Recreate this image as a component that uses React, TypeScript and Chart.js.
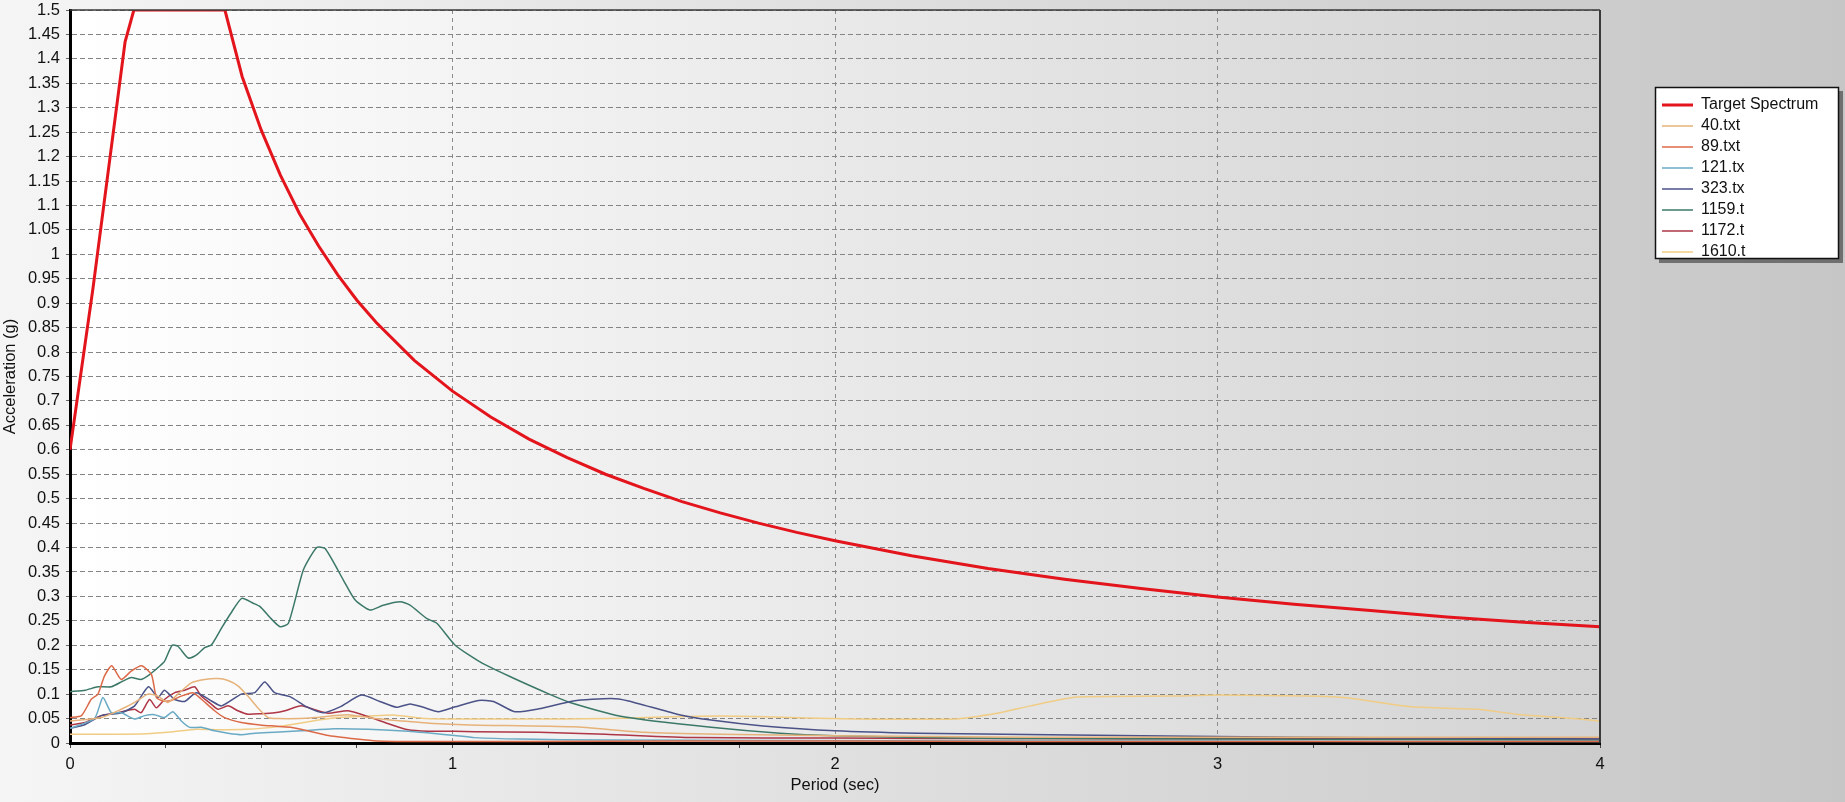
import React, { useEffect, useRef } from "react";
import { Chart, registerables } from "chart.js";

Chart.register(...registerables);

// ---------- data ----------
const seriesNames = ["Target Spectrum", "40.txt", "89.txt", "121.tx", "323.tx", "1159.t", "1172.t", "1610.t"];

const targetPeriod = [0, 0.06, 0.144, 0.167, 0.405, 0.45, 0.5, 0.55, 0.6, 0.65, 0.7, 0.75, 0.8, 0.9, 1.0, 1.1, 1.2, 1.3, 1.4, 1.5, 1.6, 1.7, 1.8, 1.9, 2.0, 2.2, 2.4, 2.6, 2.8, 3.0, 3.2, 3.4, 3.6, 3.8, 4.0];
const targetAccel = [0.6, 0.93, 1.435, 1.5, 1.5, 1.364, 1.254, 1.162, 1.083, 1.017, 0.958, 0.906, 0.861, 0.783, 0.72, 0.667, 0.622, 0.584, 0.55, 0.521, 0.494, 0.471, 0.45, 0.431, 0.414, 0.383, 0.357, 0.335, 0.316, 0.299, 0.284, 0.271, 0.258, 0.247, 0.238];

const period40 = [0, 0.082, 0.134, 0.169, 0.204, 0.23, 0.256, 0.282, 0.317, 0.352, 0.387, 0.413, 0.439, 0.465, 0.491, 0.518, 0.544, 0.6, 0.64, 0.727, 0.797, 0.87, 0.95, 1.046, 1.316, 1.5, 1.7, 2.0, 2.5, 3.0, 3.5, 4.0];
const accel40 = [0.045, 0.052, 0.069, 0.083, 0.1, 0.096, 0.083, 0.1, 0.123, 0.13, 0.132, 0.128, 0.117, 0.096, 0.072, 0.052, 0.05, 0.05, 0.052, 0.058, 0.05, 0.045, 0.04, 0.037, 0.033, 0.022, 0.018, 0.015, 0.012, 0.012, 0.012, 0.012];

const period89 = [0, 0.03, 0.056, 0.073, 0.09, 0.109, 0.134, 0.16, 0.187, 0.213, 0.226, 0.243, 0.265, 0.291, 0.321, 0.343, 0.378, 0.404, 0.448, 0.497, 0.584, 0.671, 0.75, 0.802, 0.9, 1.2, 1.6, 2.0, 2.5, 3.0, 3.5, 4.0];
const accel89 = [0.052, 0.056, 0.09, 0.1, 0.137, 0.158, 0.13, 0.147, 0.158, 0.14, 0.093, 0.086, 0.087, 0.096, 0.103, 0.09, 0.066, 0.052, 0.042, 0.037, 0.031, 0.016, 0.008, 0.004, 0.003, 0.003, 0.004, 0.004, 0.003, 0.003, 0.003, 0.003];

const period121 = [0, 0.064, 0.086, 0.108, 0.134, 0.169, 0.195, 0.221, 0.247, 0.269, 0.291, 0.313, 0.343, 0.378, 0.413, 0.448, 0.483, 0.535, 0.605, 0.692, 0.779, 0.884, 0.998, 1.058, 1.176, 1.4, 1.8, 2.5, 3.0, 3.5, 4.0];
const accel121 = [0.03, 0.05, 0.093, 0.062, 0.062, 0.049, 0.056, 0.058, 0.052, 0.064, 0.045, 0.032, 0.032, 0.025, 0.02, 0.017, 0.02, 0.022, 0.025, 0.029, 0.028, 0.024, 0.016, 0.011, 0.008, 0.006, 0.005, 0.004, 0.004, 0.003, 0.003];

const period323 = [0, 0.04, 0.082, 0.134, 0.169, 0.205, 0.23, 0.247, 0.274, 0.3, 0.33, 0.37, 0.396, 0.448, 0.483, 0.509, 0.535, 0.575, 0.619, 0.662, 0.706, 0.762, 0.81, 0.854, 0.889, 0.924, 0.963, 1.007, 1.068, 1.107, 1.163, 1.226, 1.316, 1.414, 1.46, 1.587, 1.676, 1.812, 2.0, 2.217, 2.443, 2.8, 3.2, 3.6, 4.0];
const accel323 = [0.03, 0.038, 0.056, 0.062, 0.076, 0.115, 0.093, 0.108, 0.089, 0.085, 0.103, 0.086, 0.076, 0.1, 0.103, 0.125, 0.103, 0.095, 0.074, 0.062, 0.074, 0.098, 0.085, 0.073, 0.08, 0.073, 0.064, 0.074, 0.087, 0.085, 0.064, 0.07, 0.086, 0.091, 0.086, 0.059, 0.047, 0.035, 0.025, 0.02, 0.018, 0.015, 0.012, 0.01, 0.008];

const period1159 = [0, 0.04, 0.073, 0.108, 0.139, 0.16, 0.186, 0.208, 0.234, 0.247, 0.267, 0.282, 0.309, 0.33, 0.352, 0.37, 0.396, 0.42, 0.449, 0.479, 0.497, 0.525, 0.549, 0.571, 0.61, 0.645, 0.667, 0.715, 0.745, 0.784, 0.819, 0.863, 0.889, 0.932, 0.959, 1.007, 1.072, 1.15, 1.253, 1.307, 1.451, 1.676, 1.856, 2.0, 2.31, 2.6, 3.0, 3.5, 4.0];
const accel1159 = [0.105, 0.108, 0.115, 0.115, 0.127, 0.134, 0.13, 0.14, 0.157, 0.167, 0.2, 0.198, 0.174, 0.18, 0.195, 0.201, 0.235, 0.265, 0.296, 0.286, 0.279, 0.255, 0.238, 0.245, 0.354, 0.4, 0.398, 0.333, 0.293, 0.272, 0.282, 0.289, 0.282, 0.255, 0.245, 0.2, 0.166, 0.136, 0.1, 0.083, 0.053, 0.032, 0.02, 0.015, 0.01, 0.009, 0.008, 0.007, 0.006];

const period1172 = [0, 0.04, 0.082, 0.126, 0.169, 0.186, 0.208, 0.226, 0.247, 0.274, 0.3, 0.326, 0.343, 0.37, 0.387, 0.413, 0.439, 0.465, 0.5, 0.535, 0.562, 0.605, 0.64, 0.675, 0.727, 0.779, 0.823, 0.884, 0.936, 1.006, 1.058, 1.226, 1.4, 1.631, 2.0, 2.5, 3.0, 3.5, 4.0];
const accel1172 = [0.037, 0.042, 0.056, 0.062, 0.069, 0.062, 0.089, 0.072, 0.089, 0.103, 0.108, 0.115, 0.096, 0.079, 0.069, 0.076, 0.066, 0.059, 0.06, 0.062, 0.066, 0.076, 0.068, 0.061, 0.066, 0.054, 0.042, 0.027, 0.024, 0.024, 0.023, 0.022, 0.018, 0.011, 0.01, 0.009, 0.009, 0.01, 0.01];

const period1610 = [0, 0.1, 0.2, 0.27, 0.33, 0.39, 0.46, 0.54, 0.627, 0.7, 0.78, 0.85, 0.93, 1.01, 1.181, 1.4, 1.7, 2.0, 2.31, 2.431, 2.511, 2.631, 2.88, 3.0, 3.23, 3.33, 3.38, 3.51, 3.68, 3.78, 3.88, 3.93, 4.0];
const accel1610 = [0.018, 0.018, 0.019, 0.023, 0.028, 0.027, 0.028, 0.033, 0.044, 0.052, 0.055, 0.057, 0.05, 0.049, 0.049, 0.05, 0.055, 0.05, 0.049, 0.062, 0.076, 0.094, 0.096, 0.098, 0.096, 0.093, 0.088, 0.074, 0.069, 0.059, 0.053, 0.05, 0.045];

const seriesPeriods = [targetPeriod, period40, period89, period121, period323, period1159, period1172, period1610];
const seriesAccels = [targetAccel, accel40, accel89, accel121, accel323, accel1159, accel1172, accel1610];

// ---------- styles ----------
const seriesColors = ["#e3141c", "#e6b27a", "#dc6a48", "#6aaac4", "#4a5287", "#3b7868", "#ae3646", "#f0cc84"];
const seriesWidths = [3, 1.5, 1.5, 1.5, 1.5, 1.5, 1.5, 1.5];

const W = 1845;
const H = 802;
const FONT = "'Liberation Sans', Arial, Helvetica, sans-serif";
const FS = 16.5;

const fmtY = (v: number | string) => String(parseFloat(Number(v).toFixed(2)));

const decorPlugin = {
  id: "decor",
  beforeDraw(chart: any) {
    const { ctx, chartArea: a } = chart;
    ctx.save();
    let g = ctx.createLinearGradient(0, 0, W, 0);
    g.addColorStop(0, "#f5f5f5");
    g.addColorStop(1, "#c6c6c6");
    ctx.fillStyle = g;
    ctx.fillRect(0, 0, W, H);
    g = ctx.createLinearGradient(a.left, 0, a.right, 0);
    g.addColorStop(0, "#ffffff");
    g.addColorStop(1, "#d3d3d3");
    ctx.fillStyle = g;
    ctx.fillRect(a.left, a.top, a.right - a.left, a.bottom - a.top);

    // legend frame
    const bx = 1655, by = 87, bw = 184, bh = 172;
    ctx.fillStyle = "rgba(40,40,40,0.55)";
    ctx.fillRect(bx + 4, by + 4, bw, bh);
    ctx.fillStyle = "#ffffff";
    ctx.fillRect(bx, by, bw, bh);
    ctx.strokeStyle = "#111";
    ctx.lineWidth = 1.5;
    ctx.strokeRect(bx + 0.5, by + 0.5, bw - 1, bh - 1);
    ctx.restore();

    const lg = chart.legend;
    if (lg) {
      lg.left = 1657;
      lg.top = 92;
      lg.right = 1839;
      lg.bottom = 420;
      lg.width = 182;
      lg.height = 328;
    }
  },
  afterDraw(chart: any) {
    const { ctx, chartArea: a } = chart;
    ctx.save();
    ctx.strokeStyle = "#3a3a3a";
    ctx.lineWidth = 1.5;
    ctx.beginPath();
    ctx.moveTo(a.left, a.top);
    ctx.lineTo(a.right, a.top);
    ctx.stroke();
    ctx.lineWidth = 2;
    ctx.beginPath();
    ctx.moveTo(a.right, a.top);
    ctx.lineTo(a.right, a.bottom);
    ctx.stroke();
    ctx.restore();
  },
};

export default function App() {
  const ref = useRef<HTMLCanvasElement | null>(null);

  useEffect(() => {
    if (!ref.current) return;
    Chart.defaults.font.family = FONT;
    Chart.defaults.font.size = FS;

    const datasets = seriesNames.map((name, i) => ({
      label: name,
      data: seriesPeriods[i].map((x, j) => ({ x, y: seriesAccels[i][j] })),
      borderColor: seriesColors[i],
      backgroundColor: seriesColors[i],
      borderWidth: seriesWidths[i],
      pointRadius: 0,
      pointHoverRadius: 0,
      tension: i === 0 ? 0 : 0.2,
      fill: false,
    }));

    const chart = new Chart(ref.current, {
      type: "line",
      data: { datasets },
      plugins: [decorPlugin],
      options: {
        responsive: false,
        animation: false,
        devicePixelRatio: 1,
        layout: { padding: { left: 0, top: 10, right: 245, bottom: 0 } },
        plugins: {
          tooltip: { enabled: false },
          legend: {
            position: "chartArea",
            align: "start",
            labels: {
              usePointStyle: true,
              pointStyle: "line",
              pointStyleWidth: 31,
              boxWidth: 31,
              padding: 5,
              color: "#111",
              font: { size: 16, family: FONT },
            },
          },
        },
        scales: {
          x: {
            type: "linear",
            min: 0,
            max: 4,
            ticks: {
              stepSize: 0.25,
              autoSkip: false,
              maxRotation: 0,
              padding: 7,
              color: "#111",
              font: { size: FS, family: FONT },
              callback: (v: any) => (Number.isInteger(Number(v)) ? String(v) : ""),
            },
            grid: {
              color: (c: any) => (c.tick && Number.isInteger(c.tick.value) ? "#8c8c8c" : "rgba(0,0,0,0)"),
              tickColor: "#444",
              tickLength: 5,
              lineWidth: 1,
            },
            border: { display: true, color: "#000", width: 3, dash: [4, 4] },
            title: {
              display: true,
              text: "Period (sec)",
              color: "#111",
              font: { size: FS, family: FONT },
              padding: { top: 0, bottom: 7 },
            },
            afterFit: (s: any) => {
              s.height = 59;
            },
          },
          y: {
            type: "linear",
            min: 0,
            max: 1.5,
            ticks: {
              stepSize: 0.05,
              autoSkip: false,
              padding: 6,
              color: "#111",
              font: { size: FS, family: FONT },
              callback: (v: any) => fmtY(v),
            },
            grid: {
              color: "#858585",
              lineWidth: 1,
              tickLength: 4,
              tickColor: "#666",
            },
            border: { display: true, color: "#000", width: 3, dash: [5, 3] },
            title: {
              display: true,
              text: "Acceleration (g)",
              color: "#111",
              font: { size: FS, family: FONT },
              padding: { top: 1, bottom: 0 },
            },
            afterFit: (s: any) => {
              s.width = 70;
              s.paddingTop = 0;
              s.paddingBottom = 0;
            },
          },
        },
      } as any,
    });

    return () => chart.destroy();
  }, []);

  return (
    <div style={{ position: "fixed", left: 0, top: 0, width: W, height: H, overflow: "hidden" }}>
      <canvas ref={ref} width={W} height={H} style={{ display: "block", width: W, height: H }} />
    </div>
  );
}
